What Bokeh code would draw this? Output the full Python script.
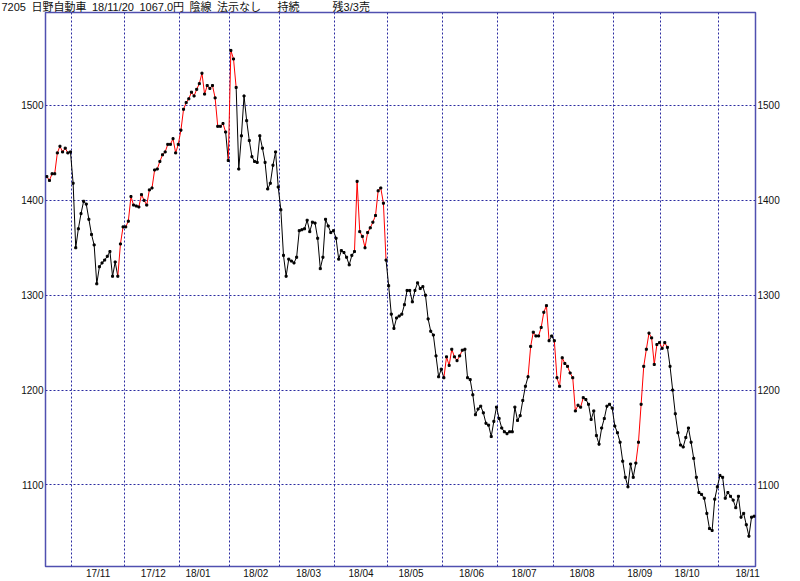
import pandas as pd
from bokeh.plotting import figure
from bokeh.models import ColumnDataSource, FixedTicker, LinearAxis, Range1d
from bokeh.embed import file_html
from bokeh.resources import INLINE

# ---------------- data ----------------
title_parts = ["7205", "日野自動車", "18/11/20", "1067.0円", "陰線", "法示なし", "持続", "残3/3売"]
first_day = "2017-10-18"
last_day = "2018-11-20"
market_holidays = ["2017-11-03", "2017-11-23", "2018-01-01", "2018-01-02", "2018-01-03",
                   "2018-01-08", "2018-02-12", "2018-03-21", "2018-04-30", "2018-05-03",
                   "2018-05-04", "2018-07-16", "2018-09-17", "2018-09-24", "2018-10-08"]

closes = [
    1425, 1421, 1428, 1428, 1450, 1457, 1451, 1455, 1450, 1451,
    1418, 1350, 1370, 1386, 1399, 1396, 1380, 1364, 1353, 1312,
    1330, 1334, 1337, 1341, 1346, 1320, 1335, 1320, 1354, 1372,
    1372, 1378, 1404, 1395, 1394, 1393, 1406, 1400, 1395, 1411,
    1413, 1432, 1433, 1441, 1448, 1451, 1459, 1459, 1465, 1450,
    1459, 1474, 1496, 1503, 1507, 1514, 1510, 1517, 1523, 1534,
    1512, 1521, 1518, 1521, 1508, 1478, 1478, 1481, 1472, 1442,
    1558, 1549, 1519, 1433, 1468, 1510, 1484, 1463, 1446, 1441,
    1440, 1468, 1455, 1440, 1412, 1418, 1437, 1451, 1414, 1390,
    1342, 1320, 1338, 1336, 1334, 1340, 1368, 1369, 1370, 1379,
    1367, 1377, 1376, 1360, 1328, 1340, 1380, 1373, 1366, 1368,
    1360, 1338, 1347, 1345, 1340, 1332, 1342, 1346, 1420, 1367,
    1362, 1350, 1366, 1371, 1377, 1384, 1410, 1413, 1397, 1337,
    1310, 1280, 1265, 1276, 1278, 1280, 1290, 1305, 1305, 1293,
    1305, 1313, 1307, 1309, 1300, 1275, 1262, 1258, 1236, 1214,
    1222, 1213, 1235, 1226, 1243, 1235, 1231, 1236, 1242, 1243,
    1213, 1211, 1195, 1174, 1180, 1183, 1176, 1165, 1163, 1151,
    1167, 1182, 1170, 1160, 1156, 1154, 1156, 1156, 1182, 1168,
    1173, 1189, 1204, 1214, 1246, 1261, 1257, 1257, 1266, 1282,
    1289, 1252, 1257, 1252, 1213, 1204, 1234, 1228, 1225, 1218,
    1213, 1178, 1184, 1182, 1192, 1190, 1185, 1169, 1178, 1152,
    1143, 1160, 1170, 1183, 1185, 1181, 1162, 1155, 1145, 1125,
    1108, 1098, 1122, 1108, 1123, 1145, 1185, 1225, 1243, 1260,
    1255, 1227, 1248, 1250, 1244, 1250, 1245, 1225, 1200, 1175,
    1155, 1142, 1140, 1150, 1160, 1145, 1128, 1108, 1092, 1090,
    1086, 1070, 1054, 1052, 1085, 1098, 1110, 1108, 1086, 1092,
    1088, 1084, 1076, 1088, 1066, 1070, 1058, 1046, 1066, 1067,
]

# runs of points (from, to) joined by red (up-trend) line pieces
red_runs = [(0, 9), (27, 68), (69, 72), (117, 129), (151, 159),
            (183, 191), (193, 204), (224, 236)]

price_ticks = [1100, 1200, 1300, 1400, 1500]
price_low, price_high = 1014, 1598

# ---------------- derived ----------------
dates = pd.bdate_range(first_day, last_day)
dates = dates[~dates.isin(pd.to_datetime(market_holidays))]
n = len(closes)
dates = dates[:n]

xs = [i + 0.5 for i in range(n)]

red = [False] * (n - 1)
for a, b in red_runs:
    for k in range(a, b):
        red[k] = True
seg_src = ColumnDataSource(dict(
    x0=xs[:-1], y0=closes[:-1], x1=xs[1:], y1=closes[1:],
    c=["#ff0000" if r else "#000000" for r in red],
))
pt_src = ColumnDataSource(dict(x=xs, y=closes))

month_starts = []
label_pos = []
label_txt = {}
for i in range(1, n):
    if dates[i].month != dates[i - 1].month:
        month_starts.append(i)
months = sorted(set((d.year, d.month) for d in dates[month_starts[0]:]))
for (yy, mm) in months:
    idx = [i for i, d in enumerate(dates) if d.year == yy and d.month == mm and d.day <= 15]
    pos = idx[-1] + 1
    label_pos.append(pos)
    label_txt[pos] = f"{yy % 100:02d}/{mm:02d}"

# ---------------- figure ----------------
AX_FONT = "Liberation Sans"
HEAD_FONT = "'Liberation Sans', 'Noto Sans CJK JP'"
FRAME = "#5050b0"
GRID = "#2a2aa0"
EN = "\u2002"
gaps = [1, 1, 1, 1, 1, 3, 6]
header = title_parts[0]
for g, part in zip(gaps, title_parts[1:]):
    header += EN * g + part

p = figure(width=800, height=581, output_backend="svg", toolbar_location=None,
           x_range=Range1d(0, n), y_range=Range1d(price_low, price_high),
           min_border_left=45, min_border_right=45, min_border_top=0, min_border_bottom=12)

p.title.text = header
p.title.text_font = HEAD_FONT
p.title.text_font_size = "11px"
p.title.text_font_style = "normal"
p.title.text_color = "#111111"
p.title.vertical_align = "middle"
p.title.align = "left"
p.title.offset = -44
p.title.standoff = -2.3

p.outline_line_color = FRAME
p.outline_line_width = 1.5
p.background_fill_color = "white"
p.border_fill_color = "white"

p.xgrid.ticker = FixedTicker(ticks=month_starts)
p.ygrid.ticker = FixedTicker(ticks=price_ticks)
for g in (p.xgrid, p.ygrid):
    g.grid_line_color = GRID
    g.grid_line_dash = "2 2"
    g.grid_line_width = 1

p.xaxis.ticker = FixedTicker(ticks=label_pos)
p.xaxis.major_label_overrides = label_txt
p.yaxis.ticker = FixedTicker(ticks=price_ticks)
right_axis = LinearAxis(ticker=FixedTicker(ticks=price_ticks))
p.add_layout(right_axis, "right")

for ax in p.xaxis + p.yaxis + [right_axis]:
    ax.axis_line_color = None
    ax.major_tick_line_color = None
    ax.minor_tick_line_color = None
    ax.major_tick_out = 0
    ax.major_tick_in = 0
    ax.major_label_text_font = AX_FONT
    ax.major_label_text_font_size = "10px"
    ax.major_label_text_color = "#111111"
    ax.major_label_standoff = 2
p.xaxis.major_label_standoff = 1

p.segment(x0="x0", y0="y0", x1="x1", y1="y1", color="c", line_width=1, source=seg_src)
p.scatter(x="x", y="y", marker="square", size=2, color="#000000", source=pt_src)

open("out.html", "w").write(file_html(p, INLINE))
